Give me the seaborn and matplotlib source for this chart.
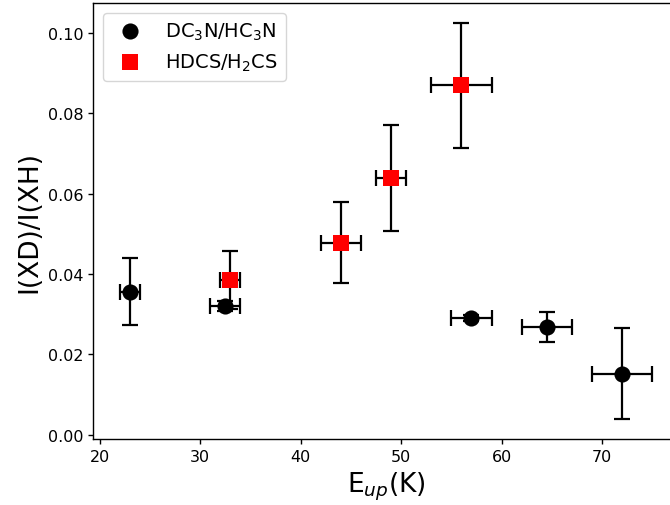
import numpy as np
import pandas as pd
import matplotlib
matplotlib.use("Agg")
import matplotlib.pyplot as plt
import seaborn as sns

# DC3N/HC3N
hc3n_e = [23.0, 32.5, 57.0, 64.5, 72.0]
hc3n_e_err = [1.0, 1.5, 2.0, 2.5, 3.0]
hc3n_r = [0.0356, 0.0321, 0.0290, 0.0268, 0.0152]
hc3n_r_err = [0.0084, 0.0012, 0.0008, 0.0037, 0.0113]

# HDCS/H2CS
h2cs_e = [33.0, 44.0, 49.0, 56.0]
h2cs_e_err = [1.0, 2.0, 1.5, 3.0]
h2cs_r = [0.0386, 0.0478, 0.0639, 0.0869]
h2cs_r_err = [0.0072, 0.0101, 0.0132, 0.0155]

df1 = pd.DataFrame({"E": hc3n_e, "R": hc3n_r})
df2 = pd.DataFrame({"E": h2cs_e, "R": h2cs_r})

sns.set_style("ticks")
plt.rcParams["font.family"] = ["DejaVu Sans"]
plt.rcParams["axes.edgecolor"] = "black"
plt.rcParams["axes.labelcolor"] = "black"
plt.rcParams["text.color"] = "black"
plt.rcParams["axes.linewidth"] = 1.0
plt.rcParams["xtick.color"] = "black"
plt.rcParams["ytick.color"] = "black"

fig = plt.figure(figsize=(6.7, 5.06), dpi=100)
ax = fig.add_axes([0.1393, 0.1304, 0.874, 0.8617])

eb = dict(fmt="none", ecolor="black", elinewidth=1.6, capsize=5.5, capthick=1.6, zorder=2)
ax.errorbar(hc3n_e, hc3n_r, xerr=hc3n_e_err, yerr=hc3n_r_err, **eb)
ax.errorbar(h2cs_e, h2cs_r, xerr=h2cs_e_err, yerr=h2cs_r_err, **eb)

sns.scatterplot(data=df1, x="E", y="R", ax=ax, color="black", marker="o", s=135,
                edgecolor="black", linewidth=0, zorder=3, label=r"DC$_3$N/HC$_3$N")
sns.scatterplot(data=df2, x="E", y="R", ax=ax, color="red", marker="s", s=135,
                edgecolor="red", linewidth=0, zorder=3, label=r"HDCS/H$_2$CS")

ax.set_xlabel(r"E$_{up}$(K)", fontsize=19)
ax.set_ylabel("I(XD)/I(XH)", fontsize=19)
ax.tick_params(labelsize=11.5, width=1.0, length=3.5)
ax.set_xticks([20, 30, 40, 50, 60, 70])
ax.set_yticks([0.0, 0.02, 0.04, 0.06, 0.08, 0.10])
ax.yaxis.set_major_formatter(matplotlib.ticker.FormatStrFormatter("%.2f"))
ax.set_xlim(19.35, 77.65)
ax.set_ylim(-0.00103, 0.1074)
ax.spines["right"].set_visible(False)

ax.legend(loc="upper left", fontsize=14, frameon=True, framealpha=0.8,
          edgecolor="0.8", fancybox=True)

fig.savefig("out.png", dpi=100)
